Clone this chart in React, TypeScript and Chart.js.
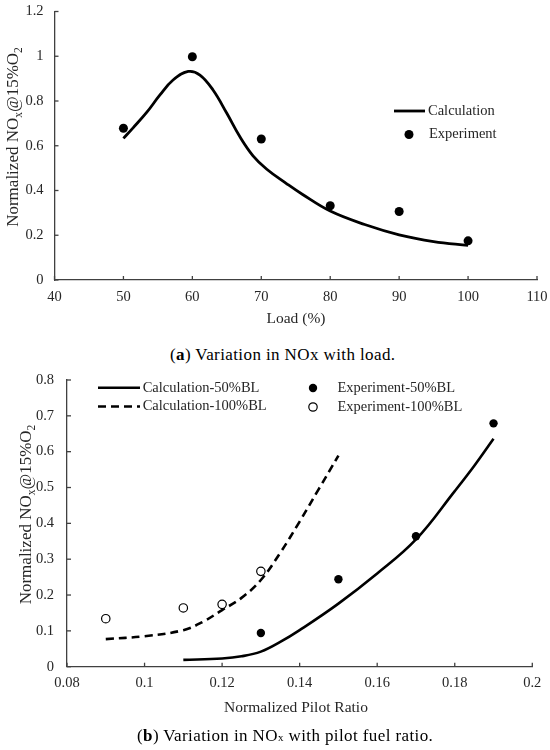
import React, { useEffect, useRef } from 'react';
import { Chart, registerables } from 'chart.js';

Chart.register(...registerables);

// (a) NOx against load
const loadExpX = [50, 60, 70, 80, 90, 100];
const loadExpY = [0.678, 0.998, 0.63, 0.332, 0.306, 0.175];
const loadCalcX = [50, 51.4, 53.4, 55.3, 57.2, 59.4, 61.1, 63, 65, 66.9, 68.8, 70.8, 73.7, 76, 80, 85, 90, 95, 100];
const loadCalcY = [0.633, 0.68, 0.75, 0.827, 0.894, 0.932, 0.916, 0.849, 0.745, 0.64, 0.555, 0.495, 0.43, 0.382, 0.308, 0.248, 0.202, 0.172, 0.155];

// (b) NOx against pilot ratio
const exp50X = [0.13, 0.15, 0.17, 0.19];
const exp50Y = [0.094, 0.244, 0.364, 0.679];
const exp100X = [0.09, 0.11, 0.12, 0.13];
const exp100Y = [0.134, 0.164, 0.174, 0.266];
const calc50X = [0.11, 0.12, 0.125, 0.13, 0.135, 0.14, 0.15, 0.16, 0.17, 0.18, 0.185, 0.19];
const calc50Y = [0.019, 0.023, 0.029, 0.042, 0.069, 0.102, 0.176, 0.26, 0.355, 0.49, 0.56, 0.636];
const calc100X = [0.09, 0.1, 0.11, 0.115, 0.12, 0.125, 0.13, 0.135, 0.14, 0.145, 0.15];
const calc100Y = [0.077, 0.085, 0.102, 0.125, 0.158, 0.192, 0.242, 0.318, 0.405, 0.497, 0.589];

const FONT = "'Liberation Serif', 'Times New Roman', serif";
const AXIS = '#404040';
const TEXT = '#262626';

const pts = (xs: number[], ys: number[]) => xs.map((x, i) => ({ x, y: ys[i] }));

// inside tick marks, axis titles and the legend
const decor = {
  id: 'decor',
  afterDraw(chart: any, _args: any, o: any) {
    const ctx = chart.ctx;
    const xs = chart.scales.x;
    const ys = chart.scales.y;
    ctx.save();
    ctx.strokeStyle = AXIS;
    ctx.lineWidth = 1.3;
    xs.ticks.forEach((t: any) => {
      const px = xs.getPixelForValue(t.value);
      ctx.beginPath();
      ctx.moveTo(px, xs.top);
      ctx.lineTo(px, xs.top - 4);
      ctx.stroke();
    });
    ys.ticks.forEach((t: any) => {
      const py = ys.getPixelForValue(t.value);
      ctx.beginPath();
      ctx.moveTo(ys.right, py);
      ctx.lineTo(ys.right + 4, py);
      ctx.stroke();
    });

    ctx.fillStyle = TEXT;
    ctx.font = `15.5px ${FONT}`;
    ctx.textAlign = 'center';
    ctx.textBaseline = 'middle';
    ctx.fillText(o.xTitle, o.xTitleX, o.xTitleY);

    // y title with subscripts
    const segs = [
      { t: 'Normalized NO', sub: false },
      { t: 'x', sub: true },
      { t: '@15%O', sub: false },
      { t: '2', sub: true },
    ];
    const main = `17px ${FONT}`;
    const small = `11.5px ${FONT}`;
    let total = 0;
    segs.forEach((s) => {
      ctx.font = s.sub ? small : main;
      total += ctx.measureText(s.t).width;
    });
    ctx.translate(o.yTitleX, o.yTitleY);
    ctx.rotate(-Math.PI / 2);
    ctx.textAlign = 'left';
    ctx.textBaseline = 'alphabetic';
    let pos = -total / 2;
    segs.forEach((s) => {
      ctx.font = s.sub ? small : main;
      ctx.fillText(s.t, pos, s.sub ? 9 : 5.5);
      pos += ctx.measureText(s.t).width;
    });
    ctx.setTransform(1, 0, 0, 1, 0, 0);
    ctx.scale(chart.currentDevicePixelRatio, chart.currentDevicePixelRatio);

    // legend
    ctx.font = `14.5px ${FONT}`;
    ctx.textBaseline = 'middle';
    ctx.textAlign = 'left';
    o.legend.forEach((it: any) => {
      ctx.strokeStyle = '#000';
      ctx.fillStyle = '#000';
      if (it.kind === 'line') {
        ctx.lineWidth = it.width;
        ctx.setLineDash(it.dash || []);
        ctx.beginPath();
        ctx.moveTo(it.x0, it.y);
        ctx.lineTo(it.x1, it.y);
        ctx.stroke();
        ctx.setLineDash([]);
      } else {
        ctx.beginPath();
        ctx.arc(it.cx, it.y, it.r, 0, Math.PI * 2);
        if (it.open) {
          ctx.fillStyle = '#fff';
          ctx.fill();
          ctx.lineWidth = 1.2;
          ctx.stroke();
        } else {
          ctx.fill();
        }
      }
      ctx.fillStyle = TEXT;
      ctx.fillText(it.label, it.tx, it.y);
    });
    ctx.restore();
  },
};

const fmt = (v: any) => String(Number(Number(v).toFixed(3)));

function axes(xMin: number, xMax: number, xStep: number, yMax: number, yStep: number, yWidth: number, xHeight: number, yPad: number) {
  const tickFont = { family: FONT, size: 14.5 };
  return {
    x: {
      type: 'linear',
      min: xMin,
      max: xMax,
      ticks: { stepSize: xStep, font: tickFont, color: TEXT, padding: 8, callback: fmt, maxRotation: 0 },
      grid: { drawOnChartArea: false, drawTicks: false },
      border: { display: true, color: AXIS, width: 1.3 },
      afterFit: (s: any) => {
        s.height = xHeight;
        s.paddingLeft = 0;
        s.paddingRight = 0;
      },
    },
    y: {
      type: 'linear',
      min: 0,
      max: yMax,
      ticks: { stepSize: yStep, font: tickFont, color: TEXT, padding: yPad, callback: fmt },
      grid: { drawOnChartArea: false, drawTicks: false },
      border: { display: true, color: AXIS, width: 1.3 },
      afterFit: (s: any) => {
        s.width = yWidth;
        s.paddingTop = 0;
        s.paddingBottom = 0;
      },
    },
  };
}

function configA(): any {
  return {
    type: 'scatter',
    data: {
      datasets: [
        { label: 'Experiment', data: pts(loadExpX, loadExpY), pointRadius: 4.5, backgroundColor: '#000', borderWidth: 0 },
        {
          label: 'Calculation',
          data: pts(loadCalcX, loadCalcY),
          showLine: true,
          pointRadius: 0,
          borderColor: '#000',
          borderWidth: 2.8,
          tension: 0.4,
        },
      ],
    },
    options: {
      animation: false,
      responsive: false,
      layout: { padding: { left: 0, top: 11.5, right: 13, bottom: 0 } },
      scales: axes(40, 110, 10, 1.2, 0.2, 54.5, 50, 11),
      plugins: {
        legend: { display: false },
        tooltip: { enabled: false },
        decor: {
          xTitle: 'Load (%)',
          xTitleX: 296,
          xTitleY: 319,
          yTitleX: 12.7,
          yTitleY: 137,
          legend: [
            { kind: 'line', x0: 394, x1: 425, y: 111, width: 2.8, label: 'Calculation', tx: 428 },
            { kind: 'dot', cx: 409, y: 134.5, r: 4.5, label: 'Experiment', tx: 429 },
          ],
        },
      },
    },
    plugins: [decor],
  };
}

function configB(): any {
  return {
    type: 'scatter',
    data: {
      datasets: [
        { label: 'Experiment-50%BL', data: pts(exp50X, exp50Y), pointRadius: 4.2, backgroundColor: '#000', borderWidth: 0 },
        {
          label: 'Experiment-100%BL',
          data: pts(exp100X, exp100Y),
          pointRadius: 4.2,
          backgroundColor: '#fff',
          borderColor: '#000',
          borderWidth: 1.2,
        },
        {
          label: 'Calculation-50%BL',
          data: pts(calc50X, calc50Y),
          showLine: true,
          pointRadius: 0,
          borderColor: '#000',
          borderWidth: 2.6,
          tension: 0.4,
        },
        {
          label: 'Calculation-100%BL',
          data: pts(calc100X, calc100Y),
          showLine: true,
          pointRadius: 0,
          borderColor: '#000',
          borderWidth: 2.6,
          borderDash: [8, 5],
          tension: 0.4,
        },
      ],
    },
    options: {
      animation: false,
      responsive: false,
      layout: { padding: { left: 0, top: 14, right: 17.7, bottom: 0 } },
      scales: axes(0.08, 0.2, 0.02, 0.8, 0.1, 67, 83.3, 13),
      plugins: {
        legend: { display: false },
        tooltip: { enabled: false },
        decor: {
          xTitle: 'Normalized Pilot Ratio',
          xTitleX: 296,
          xTitleY: 342,
          yTitleX: 25.7,
          yTitleY: 148.5,
          legend: [
            { kind: 'line', x0: 98, x1: 140, y: 21.7, width: 2.6, label: 'Calculation-50%BL', tx: 142.7 },
            { kind: 'line', x0: 98, x1: 140, y: 40.5, width: 2.6, dash: [8, 5], label: 'Calculation-100%BL', tx: 142.7 },
            { kind: 'dot', cx: 313, y: 22, r: 4.2, label: 'Experiment-50%BL', tx: 337.5 },
            { kind: 'dot', cx: 313, y: 41, r: 4.2, open: true, label: 'Experiment-100%BL', tx: 337.5 },
          ],
        },
      },
    },
    plugins: [decor],
  };
}

function ChartBox({ make, top, height }: { make: () => any; top: number; height: number }) {
  const ref = useRef<HTMLCanvasElement>(null);
  useEffect(() => {
    if (!ref.current) return;
    const chart = new Chart(ref.current, make());
    return () => chart.destroy();
  }, [make]);
  return (
    <canvas
      ref={ref}
      width={550}
      height={height}
      style={{ position: 'absolute', left: 0, top, width: 550, height }}
    />
  );
}

const captionStyle: React.CSSProperties = {
  position: 'absolute',
  fontFamily: FONT,
  fontSize: 17,
  letterSpacing: 0.4,
  lineHeight: '20px',
  whiteSpace: 'nowrap',
  color: '#000',
};

export default function App() {
  return (
    <div style={{ position: 'absolute', left: 0, top: 0, width: 550, height: 750, background: '#fff', overflow: 'hidden' }}>
      <ChartBox make={configA} top={0} height={330} />
      <div style={{ ...captionStyle, left: 170, top: 345 }}>
        (<b>a</b>) Variation in NOx with load.
      </div>
      <ChartBox make={configB} top={366} height={384} />
      <div style={{ ...captionStyle, left: 137, top: 726 }}>
        (<b>b</b>) Variation in NO<span style={{ fontSize: 11 }}>x</span> with pilot fuel ratio.
      </div>
    </div>
  );
}
